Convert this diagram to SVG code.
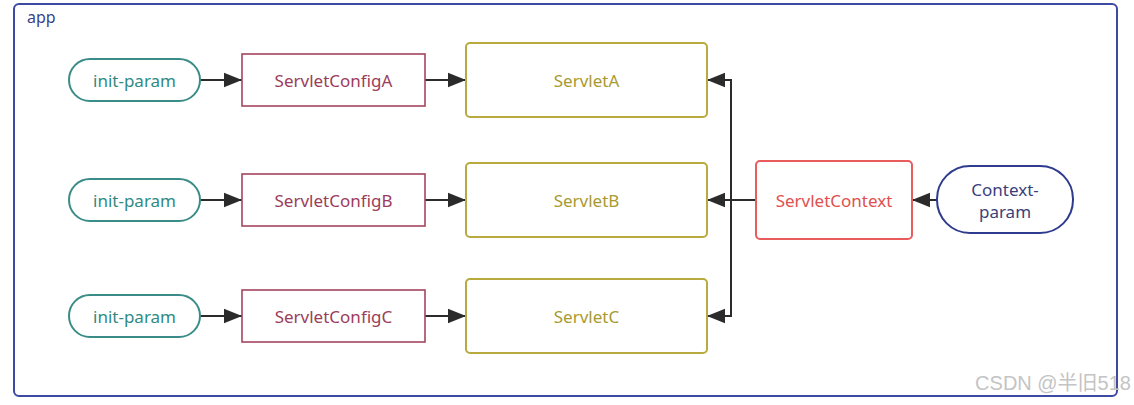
<svg xmlns="http://www.w3.org/2000/svg" width="1134" height="405" viewBox="0 0 1134 405">
<style>
text{font-family:"Noto Sans","Open Sans","Liberation Sans",sans-serif;font-size:17px;text-anchor:middle;dominant-baseline:central}
.pill{fill:#fff;stroke:#3a8c87;stroke-width:2}
.pill-t{fill:#2f8a85}
.cfg{fill:#fff;stroke:#a5455f;stroke-width:1.6}
.cfg-t{fill:#9b3d5a}
.srv{fill:#fff;stroke:#b8aa3c;stroke-width:2}
.srv-t{fill:#a89a30}
.edge{fill:none;stroke:#2b2b2b;stroke-width:2}
</style>
<defs>
<marker id="ah" viewBox="0 0 10 10" refX="10" refY="5" markerWidth="18" markerHeight="18" markerUnits="userSpaceOnUse" orient="auto">
<path d="M0,1 L10,5 L0,9 Z" fill="#2b2b2b"/>
</marker>
</defs>
<rect width="1134" height="405" fill="#fff"/>
<g id="app">
<rect x="14" y="4" width="1103" height="392" rx="5" fill="none" stroke="#3d4aa3" stroke-width="2"/>
<text x="27" y="17" style="text-anchor:start;fill:#3b3f8c;font-size:16px">app</text>
</g>
<g id="connectors">
<line class="edge" x1="200" y1="80" x2="242" y2="80" marker-end="url(#ah)"/>
<line class="edge" x1="425" y1="80" x2="466" y2="80" marker-end="url(#ah)"/>
<line class="edge" x1="200" y1="200" x2="242" y2="200" marker-end="url(#ah)"/>
<line class="edge" x1="425" y1="200" x2="466" y2="200" marker-end="url(#ah)"/>
<line class="edge" x1="200" y1="316" x2="242" y2="316" marker-end="url(#ah)"/>
<line class="edge" x1="425" y1="316" x2="466" y2="316" marker-end="url(#ah)"/>
<line class="edge" x1="937" y1="200" x2="912" y2="200" marker-end="url(#ah)"/>
<line class="edge" x1="756" y1="200" x2="707" y2="200" marker-end="url(#ah)"/>
<polyline class="edge" points="731,80 731,316"/>
<line class="edge" x1="732" y1="80" x2="707" y2="80" marker-end="url(#ah)"/>
<line class="edge" x1="732" y1="316" x2="707" y2="316" marker-end="url(#ah)"/>
</g>
<g id="initA"><rect class="pill" x="69" y="59" width="131" height="42" rx="21"/><text class="pill-t" x="134.5" y="80">init-param</text></g>
<g id="initB"><rect class="pill" x="69" y="179" width="131" height="42" rx="21"/><text class="pill-t" x="134.5" y="200">init-param</text></g>
<g id="initC"><rect class="pill" x="69" y="295" width="131" height="42" rx="21"/><text class="pill-t" x="134.5" y="316">init-param</text></g>
<g id="configA"><rect class="cfg" x="242" y="54" width="183" height="52"/><text class="cfg-t" x="333.5" y="80">ServletConfigA</text></g>
<g id="configB"><rect class="cfg" x="242" y="174" width="183" height="52"/><text class="cfg-t" x="333.5" y="200">ServletConfigB</text></g>
<g id="configC"><rect class="cfg" x="242" y="290" width="183" height="52"/><text class="cfg-t" x="333.5" y="316">ServletConfigC</text></g>
<g id="servletA"><rect class="srv" x="466" y="43" width="241" height="74" rx="4"/><text class="srv-t" x="586.5" y="80">ServletA</text></g>
<g id="servletB"><rect class="srv" x="466" y="163" width="241" height="74" rx="4"/><text class="srv-t" x="586.5" y="200">ServletB</text></g>
<g id="servletC"><rect class="srv" x="466" y="279" width="241" height="74" rx="4"/><text class="srv-t" x="586.5" y="316">ServletC</text></g>
<g id="servletContext"><rect x="756" y="161" width="156" height="78" rx="4" fill="#fff" stroke="#e85c5c" stroke-width="2"/><text x="834" y="200" style="fill:#e0504f">ServletContext</text></g>
<g id="contextParam"><rect x="937" y="166" width="136" height="67" rx="33" fill="#fff" stroke="#2e3b8e" stroke-width="2"/><text x="1005" y="189" style="fill:#3a3f7a">Context-</text><text x="1005" y="211" style="fill:#3a3f7a">param</text></g>
<g id="watermark"><text x="1131" y="383" style="text-anchor:end;fill:#c4c4c4;font-size:20px;font-family:'Liberation Sans','Noto Sans CJK SC',sans-serif">CSDN @半旧518</text></g>
</svg>
